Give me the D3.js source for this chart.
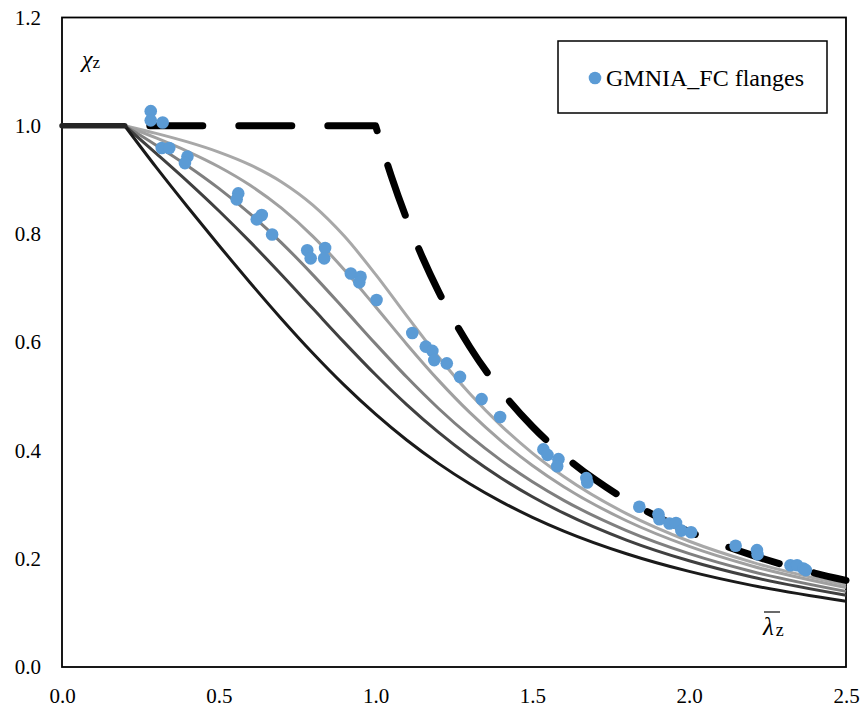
<!DOCTYPE html>
<html>
<head>
<meta charset="utf-8">
<script src="https://cdn.jsdelivr.net/npm/d3@7"></script>
<style>
  html, body { margin: 0; padding: 0; background: #fff; }
  svg { display: block; }
  svg text { font-family: 'Liberation Serif', 'Times New Roman', serif; fill: #000; }
</style>
</head>
<body>
<svg id="chart" width="861" height="709"></svg>
<script>
// ---------- data ----------
const xTicks = [0.0, 0.5, 1.0, 1.5, 2.0, 2.5];
const yTicks = [0.0, 0.2, 0.4, 0.6, 0.8, 1.0, 1.2];

// plateau of the buckling curves
const plateauLambda = [0.0, 0.2];
const plateauChi = [1.0, 1.0];

// buckling curves
const curveLambda = [0.2, 0.3, 0.4, 0.5, 0.6, 0.7, 0.8, 0.9, 1.0, 1.1, 1.2, 1.3, 1.4, 1.5, 1.6, 1.8, 2.0, 2.2, 2.5];
const curveA0 = [1.0, 0.9859, 0.9701, 0.9513, 0.9276, 0.8961, 0.8533, 0.7961, 0.7253, 0.6482, 0.5732, 0.5053, 0.4461, 0.3953, 0.3520, 0.2833, 0.2323, 0.1937, 0.1515];
const curveA  = [1.0, 0.9775, 0.9528, 0.9243, 0.8900, 0.8477, 0.7957, 0.7339, 0.6656, 0.5960, 0.5300, 0.4703, 0.4179, 0.3724, 0.3332, 0.2702, 0.2229, 0.1867, 0.1467];
const curveB  = [1.0, 0.9641, 0.9261, 0.8842, 0.8371, 0.7837, 0.7245, 0.6612, 0.5970, 0.5352, 0.4781, 0.4269, 0.3817, 0.3422, 0.3079, 0.2521, 0.2095, 0.1765, 0.1397];
const curveC  = [1.0, 0.9491, 0.8973, 0.8430, 0.7854, 0.7247, 0.6622, 0.5998, 0.5399, 0.4843, 0.4338, 0.3888, 0.3492, 0.3145, 0.2842, 0.2345, 0.1962, 0.1662, 0.1325];
const curveD  = [1.0, 0.9235, 0.8504, 0.7793, 0.7100, 0.6431, 0.5797, 0.5208, 0.4671, 0.4189, 0.3762, 0.3385, 0.3055, 0.2766, 0.2512, 0.2093, 0.1766, 0.1508, 0.1214];
const curveColors = ["#a8a8a8", "#a0a0a0", "#7f7f7f", "#404040", "#1a1a1a"];

// dashed reference curve
const dashLambda = [0.28, 1.0, 1.05, 1.1, 1.15, 1.2, 1.3, 1.4, 1.5, 1.6, 1.7, 1.8, 1.9, 2.0, 2.1, 2.2, 2.3, 2.4, 2.5];
const dashChi    = [1.0, 1.0, 0.907, 0.8264, 0.7561, 0.6944, 0.5917, 0.5102, 0.4444, 0.3906, 0.3460, 0.3086, 0.2770, 0.25, 0.2268, 0.2066, 0.1890, 0.1736, 0.16];

// GMNIA_FC flanges scatter
const ptsLambda = [0.283, 0.283, 0.321, 0.318, 0.342, 0.400, 0.392, 0.562, 0.557, 0.637, 0.621, 0.670,
  0.782, 0.793, 0.839, 0.836, 0.921, 0.952, 0.948, 1.003, 1.117, 1.160, 1.181, 1.187, 1.227, 1.269,
  1.338, 1.397, 1.535, 1.548, 1.583, 1.579, 1.672, 1.675, 1.841, 1.902, 1.905, 1.937, 1.958, 1.975,
  2.006, 2.148, 2.216, 2.218, 2.323, 2.344, 2.364, 2.372];
const ptsChi = [1.027, 1.010, 1.006, 0.959, 0.959, 0.943, 0.931, 0.875, 0.864, 0.835, 0.827, 0.799,
  0.770, 0.755, 0.774, 0.755, 0.727, 0.721, 0.711, 0.678, 0.617, 0.592, 0.584, 0.567, 0.561, 0.536,
  0.495, 0.462, 0.402, 0.392, 0.384, 0.371, 0.349, 0.341, 0.296, 0.282, 0.273, 0.265, 0.266, 0.252,
  0.249, 0.224, 0.216, 0.208, 0.188, 0.188, 0.182, 0.179];

const legendLabel = "GMNIA_FC flanges";

// ---------- layout ----------
const SERIF = "'Liberation Serif', 'Times New Roman', serif";
const svg = d3.select("#chart");
svg.append("rect").attr("width", 861).attr("height", 709).attr("fill", "#fff");

const x = d3.scaleLinear().domain([0, 2.5]).range([62, 846]);
const y = d3.scaleLinear().domain([0, 1.2]).range([667, 17.5]);

// axes (labels only, no tick marks)
const xAxis = svg.append("g").attr("transform", `translate(0,${y(0)})`)
  .call(d3.axisBottom(x).tickValues(xTicks).tickFormat(d3.format(".1f")).tickSize(0).tickPadding(21));
xAxis.attr("font-family", SERIF).attr("font-size", 21);
xAxis.select(".domain").remove();
xAxis.selectAll("text").style("font-family", SERIF).style("font-size", "21px");

const yAxis = svg.append("g").attr("transform", `translate(${x(0)},0)`)
  .call(d3.axisLeft(y).tickValues(yTicks).tickFormat(d3.format(".1f")).tickSize(0).tickPadding(21));
yAxis.attr("font-family", SERIF).attr("font-size", 21);
yAxis.select(".domain").remove();
yAxis.selectAll("text").style("font-family", SERIF).style("font-size", "21px");

// frame
svg.append("rect")
  .attr("x", x(0)).attr("y", y(1.2))
  .attr("width", x(2.5) - x(0)).attr("height", y(0) - y(1.2))
  .attr("fill", "none").attr("stroke", "#000").attr("stroke-width", 1.8);

// helper: linear plateau + monotone curve in one path
function combinedPath(xa, ya, xb, yb) {
  const lin = d3.line().x(d => x(d[0])).y(d => y(d[1])).curve(d3.curveLinear);
  const mono = d3.line().x(d => x(d[0])).y(d => y(d[1])).curve(d3.curveMonotoneX);
  const d1 = lin(xa.map((v, i) => [v, ya[i]]));
  const d2 = mono(xb.map((v, i) => [v, yb[i]]));
  return d1 + d2.replace(/^M[-\d.,e]+/, "");
}

const curves = [curveA0, curveA, curveB, curveC, curveD];
const gCurves = svg.append("g");
curves.forEach((c, i) => {
  gCurves.append("path")
    .attr("d", combinedPath(plateauLambda, plateauChi, curveLambda, c))
    .attr("fill", "none")
    .attr("stroke", curveColors[i])
    .attr("stroke-width", 3)
    .attr("stroke-linejoin", "round");
});
// overlapping plateau of all curves appears thicker
gCurves.append("path")
  .attr("d", d3.line().x(d => x(d[0])).y(d => y(d[1]))(plateauLambda.map((v, i) => [v, plateauChi[i]])))
  .attr("stroke", "#262626").attr("stroke-width", 5.5).attr("stroke-linecap", "round").attr("fill", "none");

// dashed curve
svg.append("path")
  .attr("d", combinedPath(dashLambda.slice(0, 2), dashChi.slice(0, 2), dashLambda.slice(1), dashChi.slice(1)))
  .attr("fill", "none")
  .attr("stroke", "#000")
  .attr("stroke-width", 7)
  .attr("stroke-linecap", "round")
  .attr("stroke-linejoin", "round")
  .attr("stroke-dasharray", "53,36");

// scatter
svg.append("g").selectAll("circle")
  .data(ptsLambda.map((v, i) => [v, ptsChi[i]]))
  .join("circle")
  .attr("cx", d => x(d[0]))
  .attr("cy", d => y(d[1]))
  .attr("r", 6.3)
  .attr("fill", "#5b9bd5");

// legend
const lg = svg.append("g");
lg.append("rect").attr("x", 558).attr("y", 41).attr("width", 269).attr("height", 72)
  .attr("fill", "#fff").attr("stroke", "#000").attr("stroke-width", 1.5);
lg.append("circle").attr("cx", 595).attr("cy", 78).attr("r", 6.3).attr("fill", "#5b9bd5");
lg.append("text").attr("x", 606).attr("y", 86).style("font-family", SERIF).style("font-size", "24px").text(legendLabel);

// axis titles
const yt = svg.append("text").attr("x", 82).attr("y", 67).style("font-family", SERIF).style("font-size", "24px");
yt.append("tspan").style("font-style", "italic").text("χ");
yt.append("tspan").style("font-size", "17px").attr("dy", 1).text("z");

const xt = svg.append("text").attr("x", 763).attr("y", 635).style("font-family", SERIF).style("font-size", "25px");
xt.append("tspan").style("font-style", "italic").text("λ");
xt.append("tspan").style("font-size", "18px").attr("dx", 2).attr("dy", 1).text("z");
svg.append("line").attr("x1", 764).attr("x2", 780).attr("y1", 612).attr("y2", 612)
  .attr("stroke", "#444").attr("stroke-width", 1.6);
</script>
</body>
</html>
